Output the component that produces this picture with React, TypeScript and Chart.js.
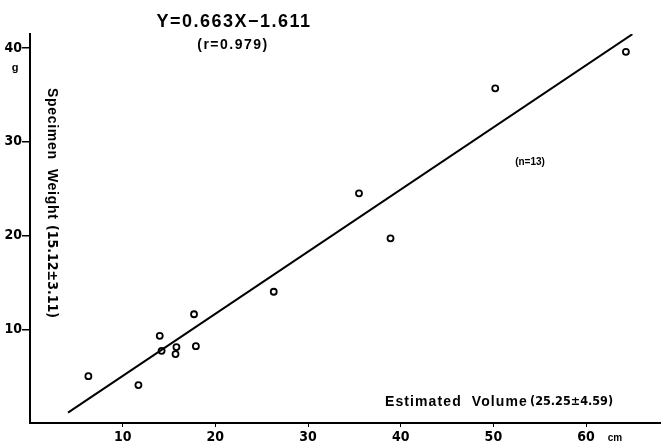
import React, { useEffect, useRef } from "react";
import { Chart, registerables } from "chart.js";

Chart.register(...registerables);

// Data
const volumeX = [6.3, 11.7, 14.0, 14.2, 15.8, 15.7, 17.7, 17.9, 26.3, 35.5, 38.9, 50.2, 64.3];
const weightY = [5.0, 4.05, 9.3, 7.7, 8.1, 7.35, 11.6, 8.2, 14.0, 24.5, 19.7, 35.7, 39.6];
// Regression line end points (Y = 0.663X - 1.611)
const lineX = [4.1, 65.0];
const lineY = [1.11, 41.48];
const xTicks = [10, 20, 30, 40, 50, 60];
const yTicks = [10, 20, 30, 40];

const titleText = "Y=0.663X\u22121.611";
const rText = "(r=0.979)";
const nText = "(n=13)";
const xTitleA = "Estimated  Volume";
const xTitleB = "(25.25\u00b14.59)";
const yTitleA = "Specimen  Weight";
const yTitleB = "(15.12\u00b13.11)";
const yUnit = "g";
const xUnit = "cm";

const FONT = "'Liberation Sans', Arial, sans-serif";
const NARROW = "'Liberation Sans Narrow', 'DejaVu Sans Condensed', 'Liberation Sans', sans-serif";

const textPlugin = {
  id: "texts",
  afterDraw(chart: any) {
    const ctx = chart.ctx as CanvasRenderingContext2D;
    ctx.save();
    ctx.fillStyle = "#000";
    ctx.textBaseline = "middle";

    ctx.textAlign = "center";
    (ctx as any).letterSpacing = "1.5px";
    ctx.font = `bold 18px ${FONT}`;
    ctx.fillText(titleText, 234, 22);

    (ctx as any).letterSpacing = "1.5px";
    ctx.font = `bold 14px ${FONT}`;
    ctx.fillText(rText, 233, 45);

    (ctx as any).letterSpacing = "0px";
    ctx.font = `bold 10px ${FONT}`;
    ctx.fillText(nText, 530, 162);

    ctx.textAlign = "left";
    (ctx as any).letterSpacing = "1.1px";
    ctx.font = `bold 14px ${FONT}`;
    ctx.fillText(xTitleA, 385, 402);
    (ctx as any).letterSpacing = "0px";
    ctx.font = `bold 12.5px ${NARROW}`;
    ctx.fillText(xTitleB, 530, 402);

    ctx.font = `bold 11px ${FONT}`;
    ctx.textAlign = "center";
    ctx.fillText(yUnit, 15, 68);
    ctx.font = `bold 10px ${FONT}`;
    ctx.fillText(xUnit, 615, 438);

    ctx.translate(52, 88);
    ctx.rotate(Math.PI / 2);
    ctx.textAlign = "left";
    (ctx as any).letterSpacing = "0.7px";
    ctx.font = `bold 14px ${FONT}`;
    ctx.fillText(yTitleA, 0, 0);
    (ctx as any).letterSpacing = "0px";
    ctx.font = `bold 14px ${NARROW}`;
    ctx.fillText(yTitleB, 137, 0);
    ctx.restore();
  },
};

export default function App() {
  const ref = useRef<HTMLCanvasElement | null>(null);
  useEffect(() => {
    if (!ref.current) return;
    const chart = new Chart(ref.current, {
      type: "scatter",
      data: {
        datasets: [
          {
            type: "line",
            data: lineX.map((x, i) => ({ x, y: lineY[i] })),
            borderColor: "#000",
            borderWidth: 2,
            pointRadius: 0,
            fill: false,
          } as any,
          {
            data: volumeX.map((x, i) => ({ x, y: weightY[i] })),
            pointRadius: 3,
            pointBorderWidth: 1.8,
            pointBorderColor: "#000",
            pointBackgroundColor: "#fff",
            borderColor: "#000",
            backgroundColor: "#fff",
          },
        ],
      },
      options: {
        responsive: false,
        animation: false,
        devicePixelRatio: 1,
        layout: { padding: { top: 34, right: 0, left: 0, bottom: 0 } },
        plugins: { legend: { display: false }, tooltip: { enabled: false }, title: { display: false } },
        scales: {
          x: {
            type: "linear",
            min: 0,
            max: 68.0,
            afterBuildTicks: (s: any) => {
              s.ticks = xTicks.map((v) => ({ value: v }));
            },
            afterFit: (s: any) => {
              s.height = 22;
            },
            grid: { drawOnChartArea: false, drawTicks: true, tickLength: 4, color: "#000", lineWidth: 1 },
            border: { display: true, color: "#000", width: 2 },
            ticks: {
              color: "#000",
              padding: 2,
              font: { family: NARROW, size: 14, weight: "bold" },
              maxRotation: 0,
            },
          },
          y: {
            type: "linear",
            min: 0,
            max: 41.5,
            afterBuildTicks: (s: any) => {
              s.ticks = yTicks.map((v) => ({ value: v }));
            },
            afterFit: (s: any) => {
              s.width = 30;
            },
            grid: { drawOnChartArea: false, drawTicks: true, tickLength: 8, color: "#000", lineWidth: 1.5 },
            border: { display: true, color: "#000", width: 2 },
            ticks: {
              color: "#000",
              padding: 0,
              font: { family: NARROW, size: 14, weight: "bold" },
            },
          },
        },
      },
      plugins: [textPlugin],
    });
    return () => chart.destroy();
  }, []);
  return (
    <div style={{ position: "fixed", left: 0, top: 0, width: 666, height: 445, background: "#fff" }}>
      <canvas ref={ref} width={666} height={445} style={{ width: 666, height: 445 }} />
    </div>
  );
}
